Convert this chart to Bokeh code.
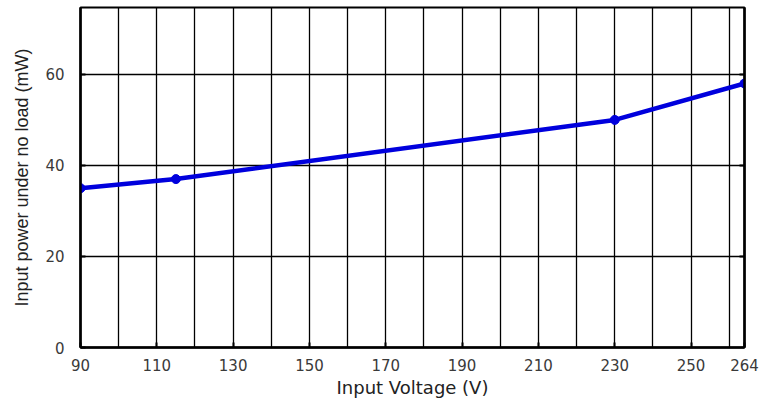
from bokeh.plotting import figure
from bokeh.models import FixedTicker, LinearAxis, Range1d
from bokeh.embed import file_html
from bokeh.resources import INLINE

voltage = [90, 115, 230, 264]
power_mw = [35.0, 37.0, 50.0, 58.0]
x_ticks = [90, 110, 130, 150, 170, 190, 210, 230, 250, 264]
x_grid = [100, 110, 120, 130, 140, 150, 160, 170, 180, 190, 200, 210, 220, 230, 240, 250, 260]
y_ticks = [0, 20, 40, 60]
y_grid = [20, 40, 60]

p = figure(width=766, height=400, output_backend="svg", toolbar_location=None,
           x_range=Range1d(90, 264), y_range=Range1d(0, 74.7),
           min_border_left=80, min_border_right=22, min_border_top=7, min_border_bottom=53)
p.background_fill_color = "white"
p.border_fill_color = "white"
p.outline_line_color = "black"
p.outline_line_width = 2

p.xgrid.ticker = FixedTicker(ticks=x_grid)
p.ygrid.ticker = FixedTicker(ticks=y_grid)
for g in (p.xgrid, p.ygrid):
    g.grid_line_color = "black"
    g.grid_line_width = 1.3
    g.grid_line_alpha = 1.0

p.xaxis.ticker = FixedTicker(ticks=x_ticks)
p.yaxis.ticker = FixedTicker(ticks=y_ticks)
for ax in (p.xaxis, p.yaxis):
    ax.axis_line_width = 2.5
    ax.axis_line_color = "black"
    ax.major_tick_in = 5
    ax.major_tick_out = 0
    ax.major_tick_line_width = 2
    ax.minor_tick_line_color = None
    ax.major_label_text_font = "DejaVu Sans"
    ax.major_label_text_font_size = "15px"
    ax.major_label_text_color = "#3a3a3a"
    ax.axis_label_text_font_style = "normal"
    ax.axis_label_text_color = "#222222"

p.xaxis.major_label_standoff = 11
p.yaxis.major_label_standoff = 16
p.xaxis.axis_label = "Input Voltage (V)"
p.xaxis.axis_label_text_font = "DejaVu Sans"
p.xaxis.axis_label_text_font_size = "18px"
p.xaxis.axis_label_standoff = 3
p.yaxis.axis_label = "Input power under no load (mW)"
p.yaxis.axis_label_text_font = "Liberation Sans"
p.yaxis.axis_label_text_font_size = "18px"
p.yaxis.axis_label_standoff = 10

right = LinearAxis(ticker=FixedTicker(ticks=y_grid),
                   major_label_overrides={20: "", 40: "", 60: ""},
                   axis_line_width=2.5, major_tick_in=5, major_tick_out=0,
                   major_tick_line_width=2, minor_tick_line_color=None)
p.add_layout(right, "right")

p.line(voltage, power_mw, line_color="#0000dd", line_width=4.5)
p.scatter(voltage, power_mw, size=9, fill_color="#0000dd", line_color="#0000dd")

open("out.html", "w").write(file_html(p, INLINE))
